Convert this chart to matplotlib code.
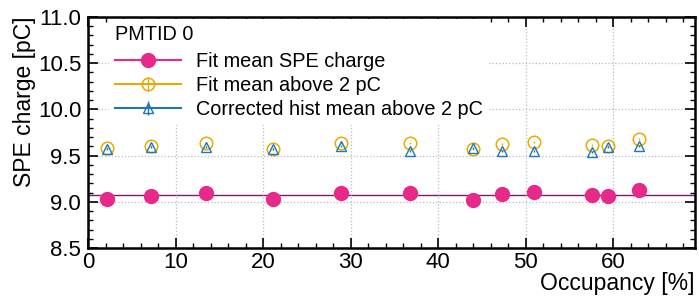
import numpy as np
import matplotlib.pyplot as plt
from matplotlib.lines import Line2D
from matplotlib.container import ErrorbarContainer
from matplotlib.legend_handler import HandlerErrorbar

plt.rcParams['font.family'] = ['Liberation Sans', 'DejaVu Sans']

# occupancy [%]
occupancy = [2.2, 7.2, 13.5, 21.1, 28.9, 36.8, 44.0, 47.3, 50.9, 57.6, 59.4, 62.9]

# SPE charge values [pC]
fit_mean = [9.03, 9.06, 9.10, 9.03, 9.10, 9.095, 9.02, 9.08, 9.11, 9.07, 9.06, 9.13]
fit_above = [9.58, 9.60, 9.64, 9.57, 9.64, 9.64, 9.57, 9.625, 9.65, 9.61, 9.605, 9.68]
hist_above = [9.568, 9.596, 9.596, 9.57, 9.60, 9.553, 9.579, 9.553, 9.553, 9.536, 9.59, 9.607]
fit_err = [0.01] * 12
above_err = [0.01] * 12
hist_err = [0.01] * 12

mean_line = 9.074

c_fit = '#E7298A'
c_above = '#E6AB02'
c_hist = '#1F78B4'


def plot_charge():
    fig = plt.figure(figsize=(6.99, 2.97), dpi=100)
    ax = fig.add_axes([0.126, 0.165, 0.868, 0.778])

    ax.axhline(mean_line, color='#7A1A7A', lw=1.0, zorder=1)

    e1 = ax.errorbar(occupancy, fit_mean, yerr=fit_err, fmt='o', color=c_fit,
                     ms=10, elinewidth=1, capsize=0, zorder=3)
    e2 = ax.errorbar(occupancy, fit_above, yerr=above_err, fmt='o', color=c_above,
                     mfc='none', ms=9, mew=1.1, elinewidth=1, capsize=0, zorder=3)
    e3 = ax.errorbar(occupancy, hist_above, yerr=hist_err, fmt='^', color=c_hist,
                     mfc='none', ms=6.5, mew=1.0, elinewidth=1, capsize=0, zorder=4)

    handles = [(Line2D([], [], color=c_fit, lw=1.5), e1),
               (Line2D([], [], color=c_above, lw=1.5), e2),
               (Line2D([], [], color=c_hist, lw=1.5), e3)]
    labels = ['Fit mean SPE charge', 'Fit mean above 2 pC', 'Corrected hist mean above 2 pC']
    leg = ax.legend(handles, labels, loc='upper left', bbox_to_anchor=(0.035, 0.99),
                    title='PMTID 0', fontsize=14.3, title_fontsize=14.3,
                    frameon=True, framealpha=1, edgecolor='none',
                    handlelength=3.3, handletextpad=0.75, borderaxespad=0,
                    borderpad=0.3, labelspacing=0.25,
                    handler_map={ErrorbarContainer: HandlerErrorbar(yerr_size=0.35)})
    leg._legend_box.align = 'left'
    leg._legend_box.sep = 5.8
    leg.set_zorder(5)

    ax.set_xlim(0, 69.3)
    ax.set_ylim(8.5, 11.0)
    ax.set_xticks([0, 10, 20, 30, 40, 50, 60])
    ax.set_yticks([8.5, 9.0, 9.5, 10.0, 10.5, 11.0])
    ax.set_yticklabels(['8.5', '9.0', '9.5', '10.0', '10.5', '11.0'])
    ax.set_xticks(np.arange(0, 70, 2), minor=True)
    ax.set_yticks(np.arange(8.5, 11.01, 0.1), minor=True)
    ax.tick_params(which='both', direction='in', top=True, right=True, labelsize=16)
    ax.tick_params(which='major', length=7, width=1.2)
    ax.tick_params(which='minor', length=3.5, width=1.0)
    ax.tick_params(axis='x', pad=3)
    ax.tick_params(axis='y', pad=5)
    for s in ax.spines.values():
        s.set_linewidth(1.8)
    ax.grid(True, which='major', ls=':', color='#bbbbbb', lw=0.9)

    ax.set_xlabel('Occupancy [%]', fontsize=16.5, loc='right', labelpad=-1)
    ax.set_ylabel('SPE charge [pC]', fontsize=16.5, loc='top', labelpad=1)

    fig.savefig('out.png', dpi=100)


if __name__ == '__main__':
    plot_charge()
